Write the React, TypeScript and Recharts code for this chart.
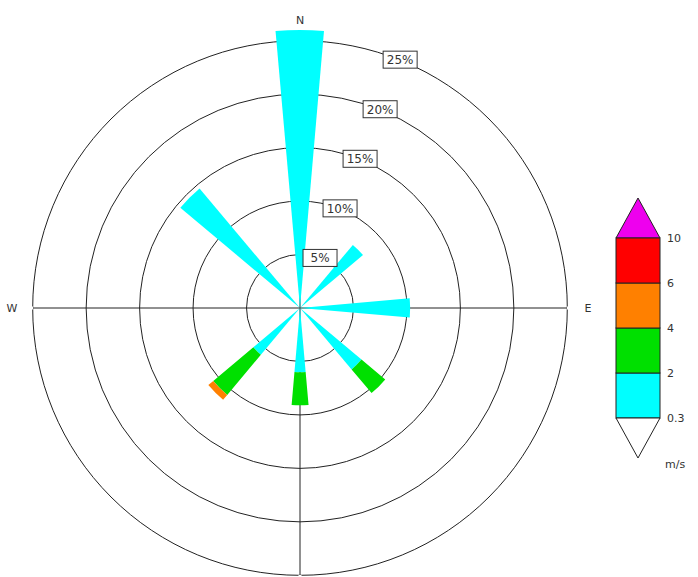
import {
  RadialBarChart,
  RadialBar,
  PolarGrid,
  PolarAngleAxis,
  PolarRadiusAxis,
  Legend,
} from 'recharts'

const directions = ['N', 'NE', 'E', 'SE', 'S', 'SW', 'W', 'NW']
const bearings = [360, 45, 90, 135, 180, 225, 270, 315]

// compass labels drawn round the rim (S falls below the picture)
const compassBearings = [360, 90, 270]
const compassLabels = ['N', 'E', 'W']
// cross lines stop at the 25% ring, except under the N petal
const trimBearings = [90, 180, 270]

// frequency (%) per direction and speed class
const speed03to2 = [26.0, 7.7, 10.3, 7.5, 6.0, 5.7, 0, 14.6]
const speed2to4 = [0, 0, 0, 2.9, 3.1, 4.9, 0, 0]
const speed4to6 = [0, 0, 0, 0, 0, 0.6, 0, 0]
const speed6to10 = [0, 0, 0, 0, 0, 0, 0, 0]
const speedOver10 = [0, 0, 0, 0, 0, 0, 0, 0]

const percentTicks = [5, 10, 15, 20, 25]

const speedEdges = ['0.3', '2', '4', '6', '10']
const calmColor = '#ffffff'
const speedColors = ['#00ffff', '#00e000', '#ff8000', '#ff0000', '#ee00ee']
const speedKeys = ['s1', 's2', 's3', 's4', 's5']

const data = directions.map((dir, i) => ({
  dir,
  bearing: bearings[i],
  s1: speed03to2[i],
  s2: speed2to4[i],
  s3: speed4to6[i],
  s4: speed6to10[i],
  s5: speedOver10[i],
}))

const font = '"DejaVu Sans", sans-serif'

const CompassTick = (props: any) => {
  const { x, y, payload } = props
  const idx = compassBearings.indexOf(payload.value)
  if (idx < 0) return <g />
  return (
    <text
      x={x}
      y={y}
      textAnchor='middle'
      dominantBaseline='central'
      fontSize={11}
      fontFamily={font}
      fill='#333'
    >
      {compassLabels[idx]}
    </text>
  )
}

const PercentTick = (props: any) => {
  const { x, y, payload } = props
  return (
    <g>
      <rect
        x={x - 17}
        y={y - 9}
        width={34}
        height={17}
        fill='#fff'
        stroke='#333'
        strokeWidth={1}
      />
      <text
        x={x}
        y={y}
        textAnchor='middle'
        dominantBaseline='central'
        fontSize={12}
        fontFamily={font}
        fill='#333'
      >
        {payload.value}%
      </text>
    </g>
  )
}

// vertical colour bar for speed classes (m/s)
const ColorBar = () => {
  const left = 16
  const w = 44
  const seg = 45
  const tri = 40
  const top = 8
  const bodyTop = top + tri
  const bodyBottom = bodyTop + seg * (speedColors.length - 1)
  const mid = left + w / 2
  const boxes = speedColors.slice(0, speedColors.length - 1)
  return (
    <svg width={98} height={295}>
      <polygon
        points={`${left},${bodyTop} ${mid},${top} ${left + w},${bodyTop}`}
        fill={speedColors[speedColors.length - 1]}
        stroke='#222'
      />
      {boxes.map((c, i) => (
        <rect
          key={c}
          x={left}
          y={bodyBottom - seg * (i + 1)}
          width={w}
          height={seg}
          fill={c}
          stroke='#222'
        />
      ))}
      <polygon
        points={`${left},${bodyBottom} ${mid},${bodyBottom + tri} ${left + w},${bodyBottom}`}
        fill={calmColor}
        stroke='#222'
      />
      {speedEdges.map((t, i) => (
        <text
          key={t}
          x={left + w + 7}
          y={bodyBottom - seg * i}
          dominantBaseline='central'
          fontSize={11}
          fontFamily={font}
          fill='#333'
        >
          {t}
        </text>
      ))}
      <text
        x={left + w + 5}
        y={bodyBottom + tri + 6}
        dominantBaseline='central'
        fontSize={11}
        fontFamily={font}
        fill='#333'
      >
        m/s
      </text>
    </svg>
  )
}

export default function App() {
  return (
    <div style={{ position: 'absolute', left: 0, top: 0, background: '#fff' }}>
      <RadialBarChart
        width={698}
        height={577}
        data={data}
        layout='centric'
        cx={300}
        cy={308}
        innerRadius={0}
        outerRadius={278}
        startAngle={67.5}
        endAngle={-292.5}
        barCategoryGap='39%'
        margin={{ top: 0, right: 0, bottom: 0, left: 0 }}
      >
        <PolarGrid
          gridType='circle'
          polarAngles={[90, 0, -90, 180]}
          stroke='#222'
        />
        {speedKeys.map((k, i) => (
          <RadialBar
            key={k}
            dataKey={k}
            stackId='speed'
            fill={speedColors[i]}
            isAnimationActive={false}
          />
        ))}
        <PolarAngleAxis
          dataKey='dir'
          type='category'
          tick={false}
          tickLine={false}
          axisLine={false}
        />
        <PolarAngleAxis
          angleAxisId='trim'
          dataKey='bearing'
          type='number'
          domain={[22.5, 382.5]}
          ticks={trimBearings}
          orientation='inner'
          tickSize={11}
          tickLine={{ stroke: '#fff', strokeWidth: 3 }}
          axisLine={false}
          tick={false}
        />
        <PolarAngleAxis
          angleAxisId='compass'
          dataKey='bearing'
          type='number'
          domain={[22.5, 382.5]}
          ticks={compassBearings}
          tickSize={10}
          tickLine={false}
          axisLine={false}
          tick={CompassTick}
        />
        <PolarRadiusAxis
          type='number'
          domain={[0, 26]}
          ticks={percentTicks}
          angle={68}
          axisLine={false}
          tickLine={false}
          tick={PercentTick}
        />
        <Legend
          content={ColorBar}
          wrapperStyle={{ position: 'absolute', left: 600, top: 190, width: 98 }}
        />
      </RadialBarChart>
    </div>
  )
}
